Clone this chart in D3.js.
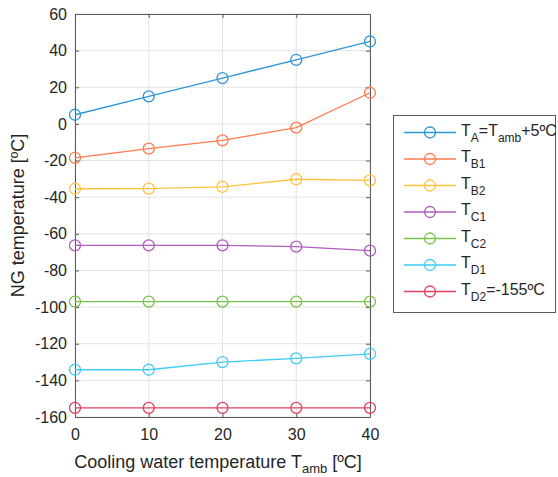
<!DOCTYPE html>
<meta charset="utf-8">
<style>
body { margin: 0; background: #fff; }
text { font-family: "Liberation Sans", Arial, Helvetica, sans-serif; fill: #262626; }
.grid line { stroke: #e3e3e3; stroke-width: 1; }
.axis path, .axis line { stroke: #5a5a5a; }
</style>
<body></body>
<script src="https://d3js.org/d3.v7.min.js"></script>
<script>
// data
var tamb = [0, 10, 20, 30, 40];
var tA  = [5, 15, 25, 35, 45];
var tB1 = [-18.5, -13.5, -9, -2, 17];
var tB2 = [-35.4, -35.3, -34.4, -30.2, -30.8];
var tC1 = [-66.3, -66.3, -66.3, -67, -69.2];
var tC2 = [-97, -97, -97, -97, -97];
var tD1 = [-134.2, -134.2, -130, -128, -125.5];
var tD2 = [-155, -155, -155, -155, -155];
var yTicks = [-160, -140, -120, -100, -80, -60, -40, -20, 0, 20, 40, 60];

var series = [
  {vals: tA,  color: "#2b97d9", main: "T", sub: "A", rest: "=T", sub2: "amb", rest2: "+5ºC"},
  {vals: tB1, color: "#ff7b4c", main: "T", sub: "B1"},
  {vals: tB2, color: "#ffc23f", main: "T", sub: "B2"},
  {vals: tC1, color: "#b15cbf", main: "T", sub: "C1"},
  {vals: tC2, color: "#7bc24b", main: "T", sub: "C2"},
  {vals: tD1, color: "#3dcdf5", main: "T", sub: "D1"},
  {vals: tD2, color: "#e2405f", main: "T", sub: "D2", rest: "=-155ºC"}
];

var W = 558, H = 477;
var svg = d3.select("body").append("svg").attr("width", W).attr("height", H);

var x = d3.scaleLinear().domain([0, 40]).range([75, 370]);
var y = d3.scaleLinear().domain([-160, 60]).range([417, 14]);

// plain hyphen for negatives, like the original
var fmt = function(d) { return String(d); };

// grid
var grid = svg.append("g").attr("class", "grid");
grid.selectAll(".gx").data(tamb).enter().append("line")
  .attr("x1", function(d) { return x(d); }).attr("x2", function(d) { return x(d); })
  .attr("y1", y(60)).attr("y2", y(-160));
grid.selectAll(".gy").data(yTicks).enter().append("line")
  .attr("x1", x(0)).attr("x2", x(40))
  .attr("y1", function(d) { return y(d); }).attr("y2", function(d) { return y(d); });

// axes (box with inward ticks)
svg.append("g").attr("class", "axis")
  .attr("transform", "translate(0," + y(-160) + ")")
  .call(d3.axisBottom(x).tickValues(tamb).tickFormat(fmt).tickSize(-4).tickPadding(12).tickSizeOuter(0))
  .call(function(g) { g.selectAll("text").style("font-size", "16px"); });
svg.append("g").attr("class", "axis")
  .attr("transform", "translate(0," + y(60) + ")")
  .call(d3.axisTop(x).tickValues(tamb).tickSize(-4).tickFormat("").tickSizeOuter(0));
svg.append("g").attr("class", "axis")
  .attr("transform", "translate(" + x(0) + ",0)")
  .call(d3.axisLeft(y).tickValues(yTicks).tickFormat(fmt).tickSize(-4).tickPadding(8).tickSizeOuter(0))
  .call(function(g) { g.selectAll("text").style("font-size", "16px"); });
svg.append("g").attr("class", "axis")
  .attr("transform", "translate(" + x(40) + ",0)")
  .call(d3.axisRight(y).tickValues(yTicks).tickSize(-4).tickFormat("").tickSizeOuter(0));

// lines + markers
var line = d3.line()
  .x(function(d, i) { return x(tamb[i]); })
  .y(function(d) { return y(d); });

series.forEach(function(s) {
  svg.append("path").datum(s.vals)
    .attr("d", line).attr("fill", "none")
    .attr("stroke", s.color).attr("stroke-width", 1.3);
  svg.selectAll(null).data(s.vals).enter().append("circle")
    .attr("cx", function(d, i) { return x(tamb[i]); })
    .attr("cy", function(d) { return y(d); })
    .attr("r", 5.5).attr("fill", "none")
    .attr("stroke", s.color).attr("stroke-width", 1.3);
});

// axis labels
var xl = svg.append("text").attr("x", 218).attr("y", 468)
  .attr("text-anchor", "middle").style("font-size", "18px");
xl.append("tspan").text("Cooling water temperature T");
xl.append("tspan").attr("dy", 5).style("font-size", "13px").text("amb");
xl.append("tspan").attr("dy", -5).text(" [ºC]");

svg.append("text")
  .attr("transform", "translate(24," + y(-50) + ") rotate(-90)")
  .attr("text-anchor", "middle").style("font-size", "18px")
  .text("NG temperature [ºC]");

// legend
var lg = svg.append("g");
lg.append("rect").attr("x", 393.5).attr("y", 115.5).attr("width", 162).attr("height", 197)
  .attr("fill", "#fff").attr("stroke", "#5a5a5a").attr("stroke-width", 1);
var ly = d3.scalePoint().domain(d3.range(series.length)).range([132.5, 291.5]);
series.forEach(function(s, i) {
  var yy = ly(i);
  lg.append("line").attr("x1", 404).attr("x2", 456).attr("y1", yy).attr("y2", yy)
    .attr("stroke", s.color).attr("stroke-width", 1.3);
  lg.append("circle").attr("cx", 430).attr("cy", yy).attr("r", 5.5)
    .attr("fill", "none").attr("stroke", s.color).attr("stroke-width", 1.3);
  var t = lg.append("text").attr("x", 461).attr("y", yy + 3).style("font-size", "16px");
  t.append("tspan").text(s.main);
  t.append("tspan").attr("dy", 6).style("font-size", "12px").text(s.sub);
  if (s.rest) {
    t.append("tspan").attr("dy", -6).text(s.rest);
    if (s.sub2) {
      t.append("tspan").attr("dy", 6).style("font-size", "12px").text(s.sub2);
      t.append("tspan").attr("dy", -6).text(s.rest2);
    }
  }
});
</script>
